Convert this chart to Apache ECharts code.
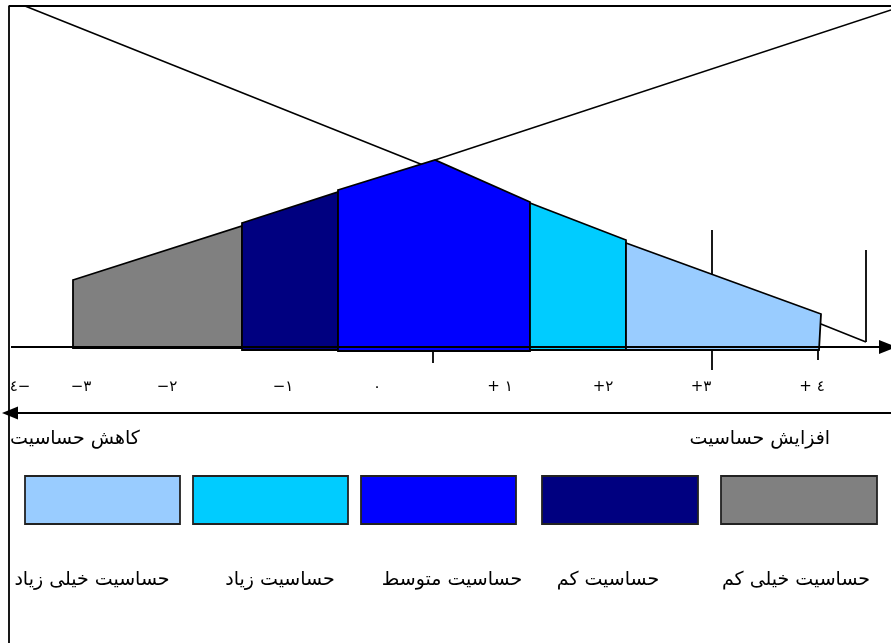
<!DOCTYPE html>
<html dir="ltr"><head><meta charset="utf-8">
<script src="https://cdn.jsdelivr.net/npm/echarts@6/dist/echarts.min.js"></script>
<style>html,body{margin:0;padding:0;background:#fff}#c{width:891px;height:643px}</style>
</head><body><div id="c"></div>
<script>
// ---- data (diagram units: x across, y up from the sensitivity axis) ----
const bandNames = ['حساسیت خیلی کم', 'حساسیت کم', 'حساسیت متوسط', 'حساسیت زیاد', 'حساسیت خیلی زیاد'];
const bandTops = [
  [[73, 67], [242, 121]],
  [[242, 124], [338, 155]],
  [[338, 157], [435, 187], [530, 145]],
  [[530, 144], [626, 107]],
  [[626, 104], [821, 33]]
];
const bandBottomX = [[73, 242], [242, 338], [338, 530], [530, 626], [626, 819]];
const bandBase = [-1, -3, -4, -3, -3];
const lineA = [[25, 341], [866, 5]];
const lineB = [[435, 187], [891, 337]];
const tickMarks = [[433, -3, -16], [712, 117, -23], [818, -3, -13], [866, 97, 5]];
const tickLabels = ['٤−', '−٣', '−٢', '−١', '٠', '+ ١', '+٢', '+٣', '+ ٤'];
const tickLabelX = [20, 81, 167, 283, 377, 500, 603, 701, 812];
const dirLabels = ['کاهش حساسیت', 'افزایش حساسیت'];
const legendOrder = [4, 3, 2, 1, 0];
const legendBoxX = [[25, 180], [193, 348], [361, 516], [542, 698], [721, 877]];
const legendLabelX = [92, 280, 452, 608, 796];

const colors = ['#808080', '#000080', '#0000FF', '#00CCFF', '#99CCFF'];
const FONT = 'DejaVu Sans';

const chart = echarts.init(document.getElementById('c'), null, {renderer: 'canvas'});

chart.setOption({
  animation: false,
  grid: {left: 0, right: 0, top: 0, bottom: 0},
  xAxis: {type: 'value', min: 0, max: 891, show: false},
  yAxis: {type: 'value', min: -296, max: 347, show: false},
  series: [
    // frame
    {type: 'line', data: [[9, -296], [9, 341], [891, 341]], symbol: 'none', clip: false,
     lineStyle: {color: '#000', width: 1.8}, z: 1},
    // crossing lines
    {type: 'line', data: lineA, symbol: 'none', clip: false, lineStyle: {color: '#000', width: 1.6}, z: 1},
    {type: 'line', data: lineB, symbol: 'none', clip: false, lineStyle: {color: '#000', width: 1.6}, z: 1},
    // tick marks
    {type: 'custom', z: 2, clip: false, data: tickMarks.map(t => [t[0], t[1], t[2]]),
     renderItem: function (params, api) {
       const t = tickMarks[params.dataIndex];
       const a = api.coord([t[0], t[1]]), b = api.coord([t[0], t[2]]);
       return {type: 'line', shape: {x1: a[0], y1: a[1], x2: b[0], y2: b[1]},
               style: {stroke: '#000', lineWidth: 1.8}};
     }},
    // bands
    {type: 'custom', z: 3, clip: false, data: bandNames.map((n, i) => [bandBottomX[i][0], bandBase[i]]),
     renderItem: function (params, api) {
       const i = params.dataIndex;
       const pts = bandTops[i].map(p => api.coord(p));
       pts.push(api.coord([bandBottomX[i][1], bandBase[i]]));
       pts.push(api.coord([bandBottomX[i][0], bandBase[i]]));
       return {type: 'polygon', shape: {points: pts},
               style: {fill: colors[i], stroke: '#000', lineWidth: 1.8}};
     }},
    // axes with arrows
    {type: 'line', data: [], z: 4,
     markLine: {silent: true, symbol: ['none', 'triangle'], symbolSize: [14, 18], label: {show: false},
       lineStyle: {color: '#000', width: 1.8, type: 'solid'},
       data: [[{coord: [11, 0]}, {coord: [888, 0]}]]}},
    {type: 'line', data: [], z: 4,
     markLine: {silent: true, symbol: ['triangle', 'none'], symbolSize: [13, 16], label: {show: false},
       lineStyle: {color: '#000', width: 1.8, type: 'solid'},
       data: [[{coord: [10, -66]}, {coord: [891, -66]}]]}},
    // tick labels
    {type: 'custom', z: 5, clip: false, data: tickLabels.map((t, i) => [tickLabelX[i], -40]),
     renderItem: function (params, api) {
       const i = params.dataIndex;
       const p = api.coord([tickLabelX[i], -40]);
       return {type: 'text', x: p[0], y: p[1],
               style: {text: tickLabels[i], fill: '#000', fontSize: 15, fontFamily: FONT,
                       align: 'center', verticalAlign: 'middle'}};
     }},
    // direction labels
    {type: 'custom', z: 5, clip: false, data: [[10, -92], [830, -92]],
     renderItem: function (params, api) {
       const i = params.dataIndex;
       const p = api.coord(i === 0 ? [10, -92] : [830, -92]);
       return {type: 'text', x: p[0], y: p[1],
               style: {text: dirLabels[i], fill: '#000', fontSize: 19, fontFamily: FONT,
                       align: i === 0 ? 'left' : 'right', verticalAlign: 'middle'}};
     }},
    // legend boxes
    {type: 'custom', z: 5, clip: false, data: legendBoxX.map(b => [b[0], -129]),
     renderItem: function (params, api) {
       const i = params.dataIndex;
       const a = api.coord([legendBoxX[i][0], -129]), b = api.coord([legendBoxX[i][1], -177]);
       return {type: 'rect', shape: {x: a[0], y: a[1], width: b[0] - a[0], height: b[1] - a[1]},
               style: {fill: colors[legendOrder[i]], stroke: '#222', lineWidth: 1.8}};
     }},
    // legend labels
    {type: 'custom', z: 5, clip: false, data: legendLabelX.map(x => [x, -233]),
     renderItem: function (params, api) {
       const i = params.dataIndex;
       const p = api.coord([legendLabelX[i], -233]);
       return {type: 'text', x: p[0], y: p[1],
               style: {text: bandNames[legendOrder[i]], fill: '#000', fontSize: 19, fontFamily: FONT,
                       align: 'center', verticalAlign: 'middle'}};
     }}
  ]
});
</script>
</body></html>
